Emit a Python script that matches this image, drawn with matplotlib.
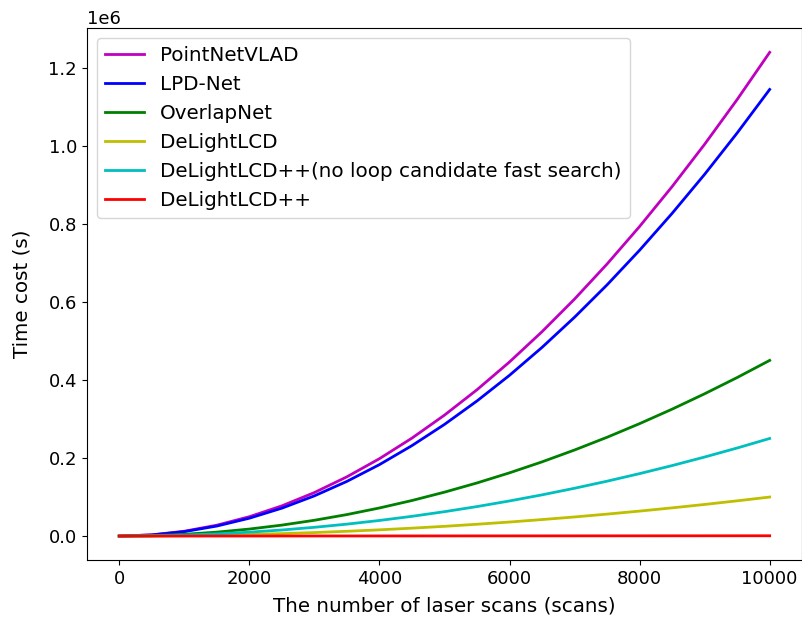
import numpy as np
import matplotlib.pyplot as plt

# number of laser scans
scans = np.arange(0, 10001, 500)

# time cost in units of 1e6 s
pointnetvlad = [0, 0.0031, 0.0124, 0.0279, 0.0496, 0.0774, 0.1115, 0.1518, 0.1982, 0.2509, 0.3098,
                0.3748, 0.4460, 0.5235, 0.6071, 0.6969, 0.7930, 0.8952, 1.0036, 1.1182, 1.2390]
lpdnet = [0, 0.0029, 0.0114, 0.0257, 0.0458, 0.0715, 0.1030, 0.1401, 0.1830, 0.2317, 0.2860,
          0.3461, 0.4118, 0.4833, 0.5606, 0.6435, 0.7322, 0.8266, 0.9266, 1.0325, 1.1440]
overlapnet = [0, 0.0011, 0.0045, 0.0101, 0.0180, 0.0281, 0.0405, 0.0551, 0.0720, 0.0911, 0.1125,
              0.1361, 0.1620, 0.1901, 0.2205, 0.2531, 0.2880, 0.3251, 0.3645, 0.4061, 0.4500]
delightlcd = [0, 0.0003, 0.0010, 0.0023, 0.0040, 0.0063, 0.0090, 0.0123, 0.0160, 0.0203, 0.0250,
              0.0303, 0.0360, 0.0423, 0.0490, 0.0563, 0.0640, 0.0723, 0.0810, 0.0903, 0.1000]
delightlcdpp_nofast = [0, 0.0006, 0.0025, 0.0056, 0.0100, 0.0156, 0.0225, 0.0306, 0.0400, 0.0506, 0.0625,
                       0.0756, 0.0900, 0.1056, 0.1225, 0.1406, 0.1600, 0.1806, 0.2025, 0.2256, 0.2500]
delightlcdpp = [0, 0.00004, 0.00008, 0.00012, 0.00016, 0.0002, 0.00024, 0.00028, 0.00032, 0.00036, 0.0004,
                0.00044, 0.00048, 0.00052, 0.00056, 0.0006, 0.00064, 0.00068, 0.00072, 0.00076, 0.0008]

series = [
    (pointnetvlad, 'm', 'PointNetVLAD'),
    (lpdnet, 'b', 'LPD-Net'),
    (overlapnet, 'g', 'OverlapNet'),
    (delightlcd, 'y', 'DeLightLCD'),
    (delightlcdpp_nofast, 'c', 'DeLightLCD++(no loop candidate fast search)'),
    (delightlcdpp, 'r', 'DeLightLCD++'),
]

plt.rcParams['font.size'] = 13
fig = plt.figure(figsize=(8.03, 6.26), dpi=100)
ax = fig.add_axes([0.108, 0.105, 0.891, 0.850])

for vals, col, name in series:
    ax.plot(scans, np.array(vals) * 1e6, color=col, linewidth=2, label=name)

ax.set_xlabel('The number of laser scans (scans)', fontsize=14.3, labelpad=6)
ax.set_ylabel('Time cost (s)', fontsize=14.3, labelpad=12)
ax.legend(loc='upper left', fontsize=14.3)

fig.savefig('out.png', dpi=100)
